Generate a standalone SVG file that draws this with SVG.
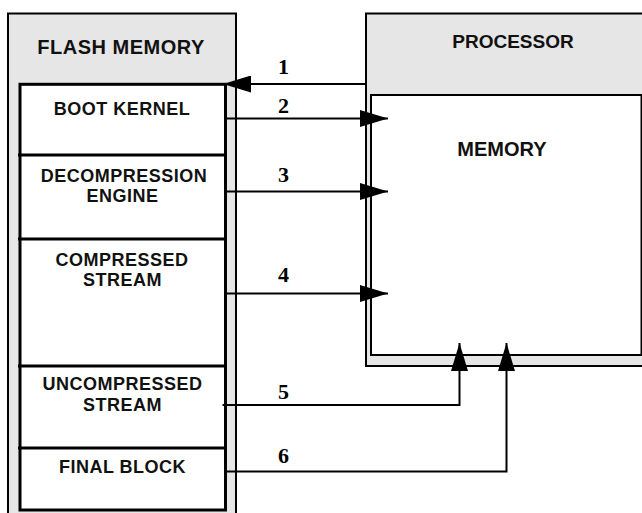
<svg xmlns="http://www.w3.org/2000/svg" width="642" height="513" viewBox="0 0 642 513">
<style>
.box{fill:#e6e6e6;stroke:#000;stroke-width:2}
.inner{fill:#fff;stroke:#000;stroke-width:3}
.mem{fill:#fff;stroke:#000;stroke-width:2}
.div{stroke:#000;stroke-width:3;fill:none}
.hdr{font-family:"Liberation Sans",Arial,sans-serif;font-weight:bold;font-size:20px;text-anchor:middle;fill:#111}
.lbl{font-family:"Liberation Sans",Arial,sans-serif;font-weight:bold;font-size:18px;letter-spacing:0.5px;text-anchor:middle;fill:#111}
.num{font-family:"Liberation Serif","Times New Roman",serif;font-weight:bold;font-size:22px;text-anchor:middle;fill:#000}
.con{stroke:#000;stroke-width:2;fill:none}
</style>
<defs>
<marker id="ah" markerUnits="userSpaceOnUse" markerWidth="28" markerHeight="17" refX="28" refY="8.5" orient="auto" viewBox="0 0 28 17">
<path d="M0,0 L28,8.5 L0,17 z" fill="#000"/>
</marker>
</defs>
<g id="flash-memory">
<path class="box" d="M8,520 L8,13.5 L236,13.5 L236,520"/>
<text class="hdr" x="121" y="54" style="letter-spacing:0.5px">FLASH MEMORY</text>
<rect class="inner" x="20" y="84.3" width="205.5" height="425.7"/>
</g>
<g id="boot-kernel">
<text class="lbl" x="122" y="115">BOOT KERNEL</text>
</g>
<g id="decompression-engine">
<line class="div" x1="18" y1="155" x2="225.5" y2="155"/>
<text class="lbl" x="124" y="182">DECOMPRESSION</text>
<text class="lbl" x="122.5" y="202">ENGINE</text>
</g>
<g id="compressed-stream">
<line class="div" x1="18" y1="239" x2="225.5" y2="239"/>
<text class="lbl" x="122" y="266">COMPRESSED</text>
<text class="lbl" x="122.5" y="286">STREAM</text>
</g>
<g id="uncompressed-stream">
<line class="div" x1="18" y1="366" x2="225.5" y2="366"/>
<text class="lbl" x="122.5" y="390">UNCOMPRESSED</text>
<text class="lbl" x="122.5" y="410.5">STREAM</text>
</g>
<g id="final-block">
<line class="div" x1="18" y1="448" x2="225.5" y2="448"/>
<text class="lbl" x="122.5" y="472.5">FINAL BLOCK</text>
</g>
<g id="processor">
<rect class="box" x="366" y="13.5" width="290" height="352.5"/>
<text class="hdr" x="513" y="48" style="font-size:19px">PROCESSOR</text>
</g>
<g id="memory">
<rect class="mem" x="371" y="95" width="270.5" height="260"/>
<text class="hdr" x="502" y="156">MEMORY</text>
</g>
<g id="connectors">
<line class="con" x1="366" y1="84" x2="223" y2="84" marker-end="url(#ah)"/>
<line class="con" x1="226" y1="118.5" x2="388" y2="118.5" marker-end="url(#ah)"/>
<line class="con" x1="226" y1="191.5" x2="388" y2="191.5" marker-end="url(#ah)"/>
<line class="con" x1="226" y1="293.5" x2="388" y2="293.5" marker-end="url(#ah)"/>
<polyline class="con" points="222.5,405 459.5,405 459.5,343" marker-end="url(#ah)"/>
<polyline class="con" points="226,471.5 506.5,471.5 506.5,343" marker-end="url(#ah)"/>
<text class="num" x="283.5" y="74">1</text>
<text class="num" x="283.5" y="113">2</text>
<text class="num" x="283.5" y="182">3</text>
<text class="num" x="283.5" y="282">4</text>
<text class="num" x="283.5" y="399">5</text>
<text class="num" x="283.5" y="463">6</text>
</g>
</svg>
